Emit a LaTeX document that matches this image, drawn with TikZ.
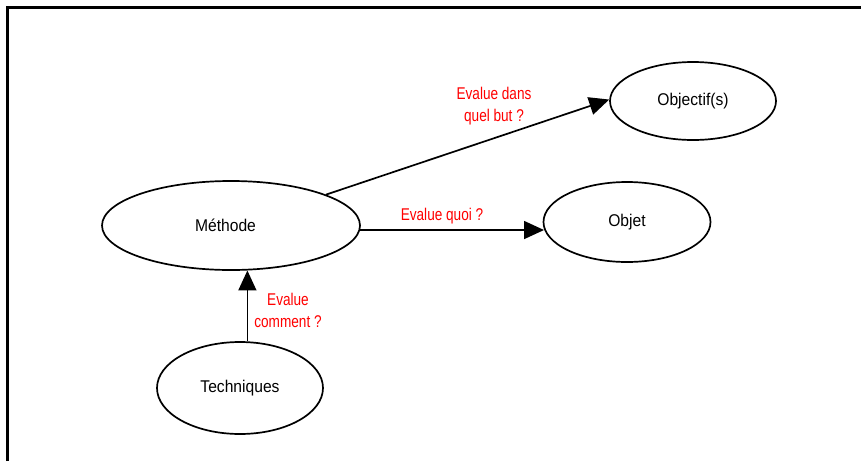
\documentclass[tikz,border=0pt]{standalone}
\usepackage{fontspec}
\setmainfont[FakeStretch=0.8]{Liberation Sans}
\newfontfamily\nodefont[FakeStretch=0.92]{Liberation Sans}
\usetikzlibrary{shapes.geometric,arrows.meta}
\begin{document}
\begin{tikzpicture}[x=1pt,y=-1pt,
  bubble/.style={ellipse,draw=black,line width=1.7pt,inner sep=0pt,font=\nodefont\fontsize{17}{22}\selectfont},
  arr/.style={line width=1.7pt,-{Triangle[length=20pt,width=18pt]}},
  lab/.style={text=red,align=center,inner sep=0pt,font=\fontsize{17}{22}\selectfont}]
\useasboundingbox (0,0) rectangle (861,461);
\draw[line width=2.2pt] (7.5,461) coordinate (fb) -- (7.5,7.5) coordinate (fc) -- (861,7.5) coordinate (fr);
\node[bubble,minimum width=258pt,minimum height=89pt] (meth) at (231,225.5) {Méthode\hspace*{11pt}};
\node[bubble,minimum width=167pt,minimum height=80pt] (objet) at (627,222) {Objet};
\node[bubble,minimum width=166pt,minimum height=78pt] (objf) at (693,101) {Objectif(s)};
\node[bubble,minimum width=166pt,minimum height=92pt] (tech) at (240,388) {Techniques};
\draw[arr] (tech.81) -- (tech.81 |- meth.-70);
\draw[arr] (meth.-2) -- (meth.-2 -| objet.185);
\draw[arr] (meth.18) -- (objf.179);
\node[lab] (l1) at (494,106) {Evalue dans\\quel but ?};
\node[lab] (l2) at (442,216) {Evalue quoi ?};
\node[lab] (l3) at (288,310) {Evalue\\comment ?};
\end{tikzpicture}
\end{document}
